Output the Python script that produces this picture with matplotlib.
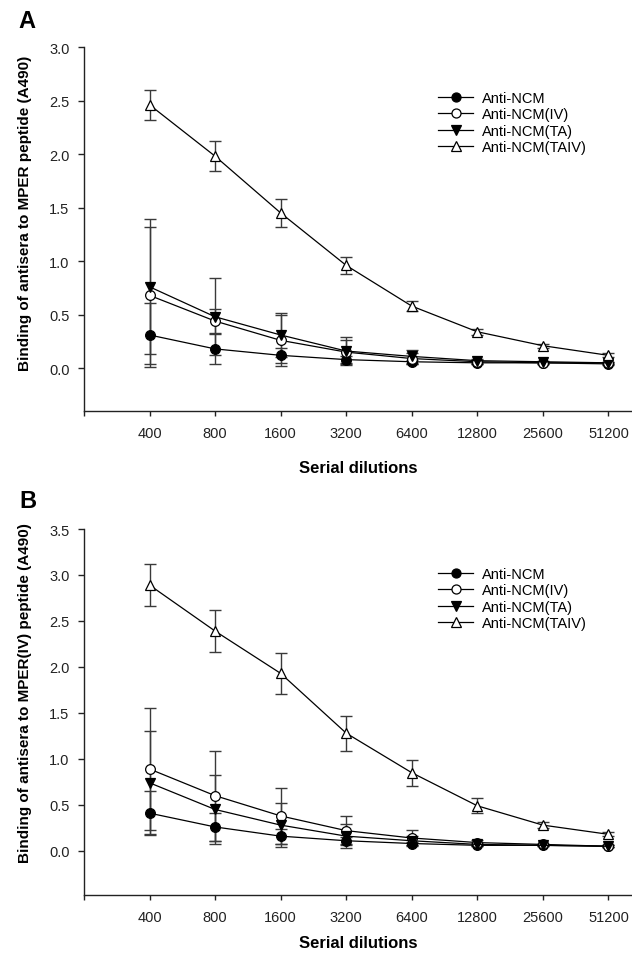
"""ELISA binding of antisera to MPER / MPER(IV) peptides over serial dilutions."""
import matplotlib
matplotlib.use("Agg")
import matplotlib.pyplot as plt
from matplotlib.lines import Line2D

plt.rcParams["font.family"] = ["Liberation Sans", "DejaVu Sans"]

W, H = 632, 954

DILUTIONS = ["400", "800", "1600", "3200", "6400", "12800", "25600", "51200"]
SERIES = ["Anti-NCM", "Anti-NCM(IV)", "Anti-NCM(TA)", "Anti-NCM(TAIV)"]

# panel A: binding to MPER peptide
a_ncm = [0.31, 0.18, 0.12, 0.08, 0.06, 0.05, 0.05, 0.04]
a_ncm_err = [0.30, 0.14, 0.07, 0.03, 0.02, 0.01, 0.01, 0.01]
a_iv = [0.68, 0.44, 0.26, 0.15, 0.09, 0.06, 0.05, 0.05]
a_iv_err = [0.64, 0.11, 0.24, 0.11, 0.05, 0.02, 0.01, 0.01]
a_ta = [0.76, 0.48, 0.31, 0.16, 0.11, 0.07, 0.06, 0.05]
a_ta_err = [0.63, 0.36, 0.21, 0.13, 0.06, 0.02, 0.01, 0.01]
a_taiv = [2.46, 1.98, 1.45, 0.96, 0.58, 0.34, 0.21, 0.12]
a_taiv_err = [0.14, 0.14, 0.13, 0.08, 0.05, 0.03, 0.02, 0.02]

# panel B: binding to MPER(IV) peptide
b_ncm = [0.41, 0.26, 0.16, 0.11, 0.08, 0.06, 0.06, 0.05]
b_ncm_err = [0.24, 0.15, 0.08, 0.04, 0.02, 0.01, 0.01, 0.01]
b_iv = [0.89, 0.60, 0.38, 0.22, 0.14, 0.09, 0.07, 0.05]
b_iv_err = [0.66, 0.49, 0.30, 0.16, 0.09, 0.03, 0.01, 0.01]
b_ta = [0.74, 0.45, 0.28, 0.16, 0.11, 0.07, 0.06, 0.05]
b_ta_err = [0.56, 0.38, 0.24, 0.13, 0.05, 0.02, 0.01, 0.01]
b_taiv = [2.89, 2.39, 1.93, 1.28, 0.85, 0.49, 0.28, 0.18]
b_taiv_err = [0.23, 0.23, 0.22, 0.19, 0.14, 0.08, 0.03, 0.02]

# marker, face colour per series
STYLES = [("o", "black"), ("o", "white"), ("v", "black"), ("^", "white")]
ERR_COLOR = "#3a3a3a"


def px_rect(left, top, right, bottom):
    return [left / W, 1 - bottom / H, (right - left) / W, (bottom - top) / H]


def draw_panel(ax, values, errors, ymax, ybottom, legend_y, xlabelpad):
    x = list(range(len(DILUTIONS)))
    for (vals, errs), (mk, fc) in zip(zip(values, errors), STYLES):
        ax.errorbar(x, vals, yerr=errs, fmt="none", ecolor=ERR_COLOR,
                    elinewidth=1.0, capsize=4.3, capthick=1.0, zorder=2)
        ax.plot(x, vals, color="black", lw=0.9, marker=mk, ms=7,
                mfc=fc, mec="black", mew=0.9, zorder=3)

    ax.set_xlim(-1, 7.36)
    ax.set_ylim(ybottom, ymax)
    ax.set_xticks([-1] + x)
    ax.set_xticklabels([""] + DILUTIONS)
    yt = [i * 0.5 for i in range(int(ymax / 0.5) + 1)]
    ax.set_yticks(yt)
    ax.set_yticklabels([f"{v:.1f}" for v in yt])
    for side in ("top", "right"):
        ax.spines[side].set_visible(False)
    for side in ("left", "bottom"):
        ax.spines[side].set_linewidth(1.0)
        ax.spines[side].set_color("#222222")
    ax.tick_params(axis="y", direction="out", length=4, width=1.0,
                   pad=6.5, labelsize=10.5, colors="#222222")
    ax.tick_params(axis="x", direction="out", length=3.5, width=1.0,
                   pad=7, labelsize=10.5, colors="#222222")
    ax.set_xlabel("Serial dilutions", fontsize=12, fontweight="bold",
                  labelpad=xlabelpad)

    handles = [Line2D([], [], color="black", lw=0.9, marker=mk, ms=6.5,
                      mfc=fc, mec="black", mew=0.9) for mk, fc in STYLES]
    ax.legend(handles, SERIES, loc="upper left", bbox_to_anchor=(0.646, legend_y),
              frameon=False, fontsize=10.5, handlelength=2.4, handletextpad=0.6,
              labelspacing=0.17, borderpad=0, borderaxespad=0)


fig = plt.figure(figsize=(W / 100, H / 100), dpi=100)

ax_a = fig.add_axes(px_rect(84, 48, 632, 412))
draw_panel(ax_a, [a_ncm, a_iv, a_ta, a_taiv],
           [a_ncm_err, a_iv_err, a_ta_err, a_taiv_err],
           3.0, -0.40, 0.88, 15)
fig.text(25 / W, 1 - 213 / H, "Binding of antisera to MPER peptide (A490)",
         rotation=90, ha="center", va="center", fontsize=11, fontweight="bold")
fig.text(27 / W, 1 - 22 / H, "A", ha="center", va="center",
         fontsize=17, fontweight="bold")

ax_b = fig.add_axes(px_rect(84, 530, 632, 896))
draw_panel(ax_b, [b_ncm, b_iv, b_ta, b_taiv],
           [b_ncm_err, b_iv_err, b_ta_err, b_taiv_err],
           3.5, -0.48, 0.897, 8)
fig.text(25 / W, 1 - 693 / H, "Binding of antisera to MPER(IV) peptide (A490)",
         rotation=90, ha="center", va="center", fontsize=11, fontweight="bold")
fig.text(28 / W, 1 - 502 / H, "B", ha="center", va="center",
         fontsize=17, fontweight="bold")

fig.savefig("out.png", dpi=100)
